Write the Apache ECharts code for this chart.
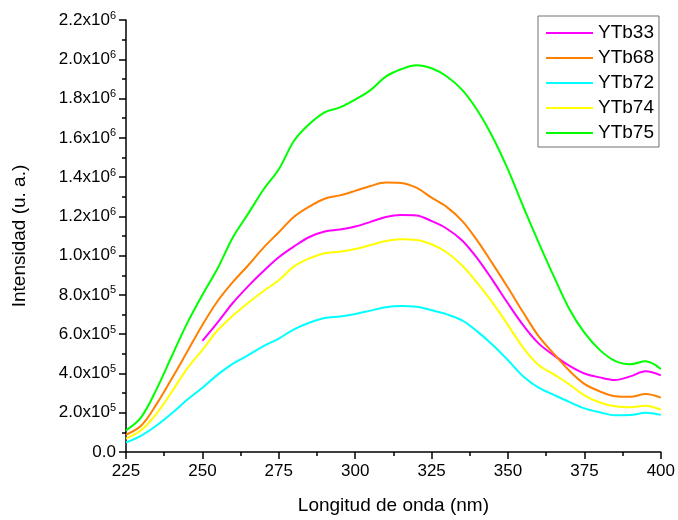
<!DOCTYPE html>
<html><head><meta charset="utf-8">
<script src="https://cdn.jsdelivr.net/npm/echarts@6/dist/echarts.min.js"></script>
<style>html,body{margin:0;padding:0;background:#fff}#c{width:678px;height:520px}</style>
</head><body><div id="c"></div>
<script>
const wavelengths = [225,230,235,240,245,250,255,260,265,270,275,280,285,290,295,300,305,310,315,320,325,330,335,340,345,350,355,360,365,370,375,380,385,390,395,400];
const seriesNames = ['YTb33','YTb68','YTb72','YTb74','YTb75'];
const seriesColors = ['#ff00ff','#ff8000','#00ffff','#ffff00','#00ff00'];
// values in units of 1e5
const ytb33 = [null,null,null,null,null,5.66,6.6,7.6,8.45,9.22,9.92,10.47,10.95,11.23,11.33,11.48,11.72,11.97,12.07,12.05,11.76,11.37,10.77,9.85,8.74,7.56,6.45,5.53,4.92,4.4,4.0,3.8,3.67,3.85,4.11,3.9];
const ytb68 = [0.88,1.35,2.44,3.74,5.1,6.47,7.69,8.66,9.51,10.41,11.19,11.98,12.5,12.9,13.07,13.3,13.55,13.72,13.7,13.46,12.95,12.47,11.77,10.75,9.58,8.36,7.1,5.9,5.0,4.15,3.47,3.09,2.84,2.81,2.95,2.77];
const ytb72 = [0.49,0.84,1.35,1.97,2.66,3.27,3.94,4.5,4.93,5.39,5.78,6.25,6.58,6.82,6.9,7.03,7.2,7.37,7.43,7.4,7.22,7.01,6.7,6.13,5.45,4.67,3.85,3.28,2.91,2.55,2.22,2.02,1.87,1.88,2.0,1.89];
const ytb74 = [0.68,1.12,1.96,3.07,4.25,5.2,6.2,6.95,7.6,8.2,8.75,9.45,9.86,10.12,10.2,10.34,10.54,10.75,10.83,10.8,10.58,10.16,9.5,8.6,7.59,6.46,5.3,4.43,3.95,3.45,2.88,2.52,2.33,2.28,2.36,2.15];
const ytb75 = [1.10,1.78,3.2,4.89,6.55,8.0,9.36,10.94,12.14,13.37,14.4,15.85,16.7,17.3,17.55,17.95,18.43,19.12,19.49,19.7,19.54,19.12,18.44,17.39,16.03,14.38,12.49,10.68,8.94,7.3,6.08,5.2,4.64,4.47,4.62,4.23];
const allValues = [ytb33, ytb68, ytb72, ytb74, ytb75];
const unit = 1e5;

const FONT = 'Liberation Sans';
function yFmt(v){
  if (Math.abs(v) < 1e-6) return '{b|0.0}';
  const e = Math.floor(Math.log10(v) + 1e-9);
  const m = v / Math.pow(10, e);
  return '{b|' + m.toFixed(1) + 'x10}{s|' + e + '}';
}
const chart = echarts.init(document.getElementById('c'), null, {renderer:'canvas'});
chart.setOption({
  animation: false,
  backgroundColor: '#fff',
  textStyle: {fontFamily: FONT, color: '#000'},
  grid: {left: 126, right: 12, top: 20, bottom: 66},
  legend: {
    orient: 'vertical', left: 538, top: 16,
    data: seriesNames.map(n => ({name: n, icon: 'rect'})),
    padding: [7, 5, 4, 8],
    itemGap: 5, itemWidth: 47, itemHeight: 2,
    borderColor: '#707070', borderWidth: 1,
    textStyle: {fontFamily: FONT, fontSize: 19, color: '#000', lineHeight: 20}
  },
  xAxis: {
    type: 'value', min: 225, max: 400, interval: 25,
    name: 'Longitud de onda (nm)', nameLocation: 'middle', nameGap: 44,
    nameTextStyle: {fontFamily: FONT, fontSize: 19, color: '#000'},
    axisLine: {show: true, lineStyle: {color: '#000', width: 1.5}},
    axisTick: {show: true, inside: false, length: 7, lineStyle: {color: '#000', width: 1.5}},
    minorTick: {show: true, splitNumber: 2, length: 4, lineStyle: {color: '#000', width: 1.5}},
    axisLabel: {fontFamily: FONT, fontSize: 17, color: '#000', margin: 11},
    splitLine: {show: false}
  },
  yAxis: {
    type: 'value', min: 0, max: 2200000, interval: 200000,
    name: 'Intensidad (u. a.)', nameLocation: 'middle', nameGap: 97,
    nameTextStyle: {fontFamily: FONT, fontSize: 19, color: '#000'},
    axisLine: {show: true, lineStyle: {color: '#000', width: 1.5}},
    axisTick: {show: true, inside: false, length: 7, lineStyle: {color: '#000', width: 1.5}},
    minorTick: {show: true, splitNumber: 2, length: 4, lineStyle: {color: '#000', width: 1.5}},
    axisLabel: {
      margin: 10, formatter: yFmt,
      rich: {
        b: {fontFamily: FONT, fontSize: 17, color: '#000', lineHeight: 20},
        s: {fontFamily: FONT, fontSize: 11, color: '#000', lineHeight: 11, verticalAlign: 'top'}
      }
    },
    splitLine: {show: false}
  },
  series: seriesNames.map((n, i) => ({
    name: n, type: 'line', symbol: 'none', smooth: 0.35,
    lineStyle: {color: seriesColors[i], width: 2},
    itemStyle: {color: seriesColors[i]},
    data: wavelengths.map((w, j) => [w, allValues[i][j] == null ? null : allValues[i][j] * unit]).filter(p => p[1] !== null)
  }))
});
</script></body></html>
